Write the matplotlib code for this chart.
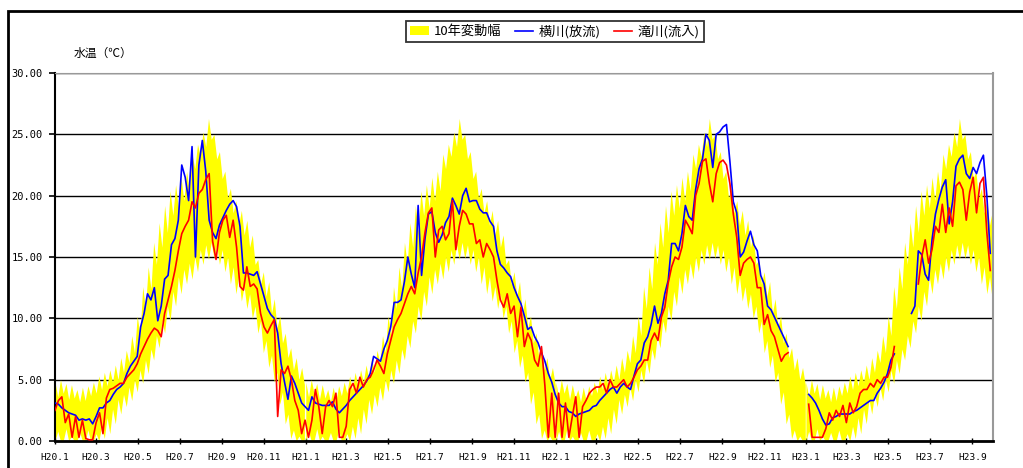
import numpy as np
import pandas as pd
import matplotlib
matplotlib.use('Agg')
import matplotlib.pyplot as plt
from matplotlib.patches import Patch, Rectangle
from matplotlib.lines import Line2D

plt.rcParams['font.family'] = ['Noto Sans CJK JP', 'DejaVu Sans']

nan = np.nan
start = pd.Timestamp('2008-01-01')
step = 5  # days between readings

# 横川(放流) water temperature, every 5 days from 2008-01-01
yokokawa = [
    3.1, 3.0, 2.7, 2.5, 2.3, 2.2, 2.1, 1.7, 1.8, 1.7,
    1.8, 1.4, 2.0, 2.7, 2.7, 3.1, 3.3, 3.8, 4.2, 4.4,
    4.7, 5.5, 6.1, 6.5, 6.9, 9.3, 10.4, 12.0, 11.5, 12.5,
    9.8, 11.0, 13.2, 13.5, 16.0, 16.5, 18.0, 22.5, 21.5, 19.6,
    24.0, 15.0, 22.5, 24.5, 22.0, 18.0, 17.0, 16.5, 17.6, 18.2,
    18.8, 19.3, 19.6, 19.1, 17.5, 13.7, 13.7, 13.6, 13.5, 13.8,
    12.8, 11.8, 10.8, 10.3, 10.0, 8.8, 6.3, 4.8, 3.4, 5.3,
    4.7, 3.9, 3.1, 2.8, 2.5, 3.6, 3.1, 3.0, 2.9, 2.9,
    2.9, 3.2, 2.6, 2.3, 2.6, 2.9, 3.3, 3.6, 3.9, 4.2,
    4.5, 4.9, 5.5, 6.9, 6.7, 6.5, 7.5, 8.2, 9.3, 11.3,
    11.3, 11.5, 13.0, 15.0, 13.6, 12.5, 19.2, 13.5, 16.5, 18.5,
    18.7, 17.0, 16.2, 16.8, 17.8, 18.3, 19.8, 19.2, 18.5, 20.0,
    20.6, 19.5, 19.6, 19.6, 18.9, 18.6, 18.6, 17.9, 17.5, 15.5,
    14.4, 14.1, 13.7, 13.4, 12.5, 11.8, 11.2, 10.2, 9.1, 9.3,
    8.5, 8.0, 7.2, 6.5, 5.5, 4.8, 3.8, 3.1, 2.8, 2.8,
    2.4, 2.3, 2.0, 2.2, 2.3, 2.4, 2.5, 2.8, 2.9, 3.3,
    3.6, 3.9, 4.2, 4.4, 3.9, 4.4, 4.7, 4.4, 4.2, 5.3,
    6.3, 6.6, 8.0, 8.5, 9.5, 11.0, 9.6, 10.4, 12.0, 13.1,
    16.1, 16.1, 15.5, 16.9, 19.2, 18.3, 18.0, 20.5, 22.2, 23.0,
    25.0, 24.5, 22.3, 25.0, 25.2, 25.6, 25.8, 22.8, 19.5, 18.6,
    15.0, 15.4, 16.3, 17.1, 16.0, 15.5, 13.5, 12.8, 11.0, 10.7,
    10.1, 9.5, 8.9, 8.3, 7.7, nan, nan, nan, nan, nan,
    3.8, 3.5, 3.1, 2.5, 1.8, 1.3, 1.4, 1.9, 2.0, 2.2,
    2.2, 2.2, 2.2, 2.4, 2.5, 2.7, 2.9, 3.1, 3.3, 3.3,
    3.9, 4.3, 4.8, 5.5, 6.6, 7.1, nan, nan, nan, nan,
    10.4, 11.0, 15.5, 15.2, 13.6, 13.1, 16.4, 18.5, 19.7, 20.7,
    21.3, 17.7, 19.5, 22.4, 23.0, 23.3, 21.8, 21.4, 22.3, 21.8,
    22.7, 23.3, 20.0, 15.3,
]

# 滝川(流入) water temperature, same dates
takigawa = [
    2.5, 3.3, 3.6, 1.5, 2.2, 0.3, 2.0, 0.3, 1.7, 0.2,
    0.1, 0.1, 1.5, 2.3, 0.6, 3.5, 4.2, 4.3, 4.5, 4.7,
    4.7, 5.2, 5.5, 5.8, 6.3, 7.1, 7.7, 8.3, 8.8, 9.2,
    9.0, 8.5, 10.4, 11.5, 12.6, 13.9, 15.5, 16.9, 17.5, 18.0,
    19.5, 19.0, 20.2, 20.5, 21.3, 21.8, 16.3, 14.8, 17.0, 18.0,
    18.4, 16.6, 18.0, 15.8, 12.6, 12.3, 14.2, 12.6, 12.8, 12.4,
    10.4, 9.3, 8.8, 9.4, 9.9, 2.0, 5.8, 5.5, 6.1, 5.0,
    3.3, 2.5, 0.6, 1.7, 0.3, 1.7, 4.2, 2.8, 0.6, 2.8,
    3.3, 2.8, 3.9, 0.3, 0.3, 1.2, 4.2, 4.7, 3.9, 5.2,
    4.4, 5.0, 5.2, 5.8, 6.6, 6.1, 5.5, 7.1, 8.2, 9.3,
    9.9, 10.4, 11.2, 12.0, 12.6, 12.0, 13.7, 15.0, 17.0, 18.6,
    19.0, 15.0, 17.2, 17.5, 16.4, 16.9, 19.6, 15.6, 17.5, 18.8,
    18.5, 17.7, 17.7, 16.1, 16.4, 15.0, 16.1, 15.6, 15.0, 13.1,
    11.5, 10.9, 12.0, 10.4, 11.0, 8.5, 10.9, 7.7, 8.8, 8.2,
    6.6, 6.1, 7.7, 4.5, 0.3, 3.9, 0.3, 3.9, 0.3, 3.1,
    0.3, 2.0, 3.6, 0.3, 2.8, 3.3, 3.9, 4.2, 4.4, 4.4,
    4.7, 3.9, 5.0, 4.4, 4.4, 4.7, 5.0, 4.4, 4.7, 5.2,
    5.8, 6.1, 6.6, 6.6, 8.2, 8.8, 8.2, 10.1, 10.9, 12.9,
    14.2, 15.0, 14.8, 15.8, 18.0, 17.5, 16.9, 20.0, 21.0, 22.8,
    23.0, 21.0, 19.5, 21.8, 22.7, 22.9, 22.5, 21.0, 18.5, 16.6,
    13.5, 14.5, 14.8, 15.0, 14.5, 12.5, 12.5, 9.5, 10.3, 9.0,
    8.5, 7.5, 6.5, 7.0, 7.2, nan, nan, nan, nan, nan,
    3.0, 0.3, 0.3, 0.3, 0.3, 1.0, 2.3, 1.7, 2.5, 2.0,
    2.9, 1.5, 3.1, 2.3, 2.8, 3.9, 4.2, 4.2, 4.7, 4.4,
    5.0, 4.7, 5.2, 5.2, 6.0, 7.7, nan, nan, nan, nan,
    nan, nan, 12.8, 15.0, 16.4, 14.5, 15.6, 17.5, 17.0, 19.3,
    17.0, 19.0, 17.5, 20.8, 21.1, 20.5, 18.0, 20.3, 21.5, 18.6,
    21.0, 21.5, 17.0, 13.9,
]

# 10-year range by day of year (every 4 days)
band_doy = np.arange(0, 365, 4)
band_low = [
    0.0, 0.8, 0.0, 0.0, 1.0, 0.0, 0.4, 0.0, 0.0, 0.7,
    0.0, 0.0, 0.9, 0.0, 0.0, 0.6, 0.0, 1.2, 0.2, 1.9,
    0.6, 2.6, 1.4, 3.4, 2.2, 3.8, 2.8, 4.4, 3.3, 5.0,
    4.0, 5.8, 4.7, 6.6, 5.5, 7.5, 6.6, 8.6, 7.6, 9.8,
    8.8, 11.0, 9.8, 12.2, 11.0, 13.4, 12.0, 14.0, 12.8, 14.5,
    13.2, 15.0, 13.8, 15.6, 14.4, 16.0, 14.8, 16.2, 14.9, 16.0,
    14.4, 15.6, 13.8, 15.0, 12.8, 14.2, 12.0, 13.4, 11.4, 12.6,
    10.8, 12.0, 10.0, 11.0, 8.8, 9.8, 7.2, 8.2, 6.0, 7.0,
    4.8, 5.6, 3.0, 4.0, 1.4, 2.2, 0.2, 0.9, 0.0, 0.4,
    0.0, 0.0,
]
band_high = [
    4.8, 3.6, 5.0, 3.9, 4.7, 3.4, 4.6, 3.5, 4.2, 3.2,
    4.4, 3.3, 4.5, 3.7, 4.8, 3.9, 5.3, 4.2, 5.6, 4.5,
    5.8, 4.8, 6.2, 5.0, 6.8, 5.6, 7.4, 6.4, 8.6, 7.2,
    10.2, 8.6, 12.6, 10.8, 14.2, 12.4, 16.2, 14.4, 17.8, 15.8,
    19.2, 17.0, 20.4, 18.4, 20.9, 19.0, 21.5, 19.6, 22.0, 20.4,
    23.4, 22.2, 24.2, 23.2, 25.2, 24.0, 26.3, 24.6, 25.0, 23.0,
    23.6, 21.4, 22.0, 19.8, 20.6, 18.6, 19.6, 17.6, 18.8, 16.8,
    18.0, 15.8, 16.8, 14.4, 14.8, 12.8, 13.8, 11.8, 13.0, 10.4,
    11.6, 9.2, 10.2, 8.0, 8.8, 6.8, 7.6, 5.8, 6.8, 5.0,
    6.0, 4.6,
]

years = [2008, 2009, 2010, 2011]
y_ticks = [0, 5, 10, 15, 20, 25, 30]

dates_b = start + pd.to_timedelta(np.arange(len(yokokawa)) * step, unit='D')
dates_r = start + pd.to_timedelta(np.arange(len(takigawa)) * step, unit='D')
tick_dates = pd.date_range('2008-01-01', '2011-09-01', freq='2MS')
tick_labels = ['H%d.%d' % (d.year - 1988, d.month) for d in tick_dates]

fig = plt.figure(figsize=(10.23, 4.68), dpi=100)
ax = fig.add_axes([55 / 1023, 1 - 441 / 468, 938 / 1023, 368 / 468])

for yr in years:
    bd = pd.Timestamp('%d-01-01' % yr) + pd.to_timedelta(band_doy, unit='D')
    ax.fill_between(bd, band_low, band_high, color='#FFFF00',
                    linewidth=0, zorder=2)

ax.plot(dates_b, yokokawa, color='#0000FF', lw=1.2, zorder=3)
ax.plot(dates_r, takigawa, color='#FF0000', lw=1.2, zorder=4)

ax.set_xlim(pd.Timestamp('2008-01-01'), pd.Timestamp('2011-10-01'))
ax.set_ylim(0, 30)
ax.set_yticks(y_ticks)
ax.set_yticklabels(['%.2f' % v for v in y_ticks], family='DejaVu Sans Mono',
                   fontsize=7.5)
ax.set_xticks(tick_dates)
ax.set_xticklabels(tick_labels, family='DejaVu Sans Mono', fontsize=6.8)
ax.tick_params(axis='y', direction='out', length=4, width=1.2, pad=5)
ax.tick_params(axis='x', direction='inout', length=5, width=1, pad=6)

ax.set_axisbelow(True)
ax.yaxis.grid(True, color='black', lw=1)
ax.spines['left'].set_linewidth(1.5)
ax.spines['bottom'].set_linewidth(2)
ax.spines['top'].set_color('#999999')
ax.spines['right'].set_color('#999999')
ax.spines['right'].set_linewidth(1.5)

fig.text(74 / 1023, 1 - 53 / 468, '水温（℃）', fontsize=8.5, va='center')

handles = [Patch(facecolor='#FFFF00', edgecolor='none'),
           Line2D([], [], color='#0000FF', lw=1.2),
           Line2D([], [], color='#FF0000', lw=1.2)]
leg = fig.legend(handles, ['10年変動幅', '横川(放流)', '滝川(流入)'],
                 loc='center', bbox_to_anchor=(555 / 1023, 1 - 31.5 / 468),
                 ncol=3, fontsize=9.5, frameon=True, fancybox=False,
                 edgecolor='black', handlelength=1.4, handleheight=0.6,
                 handletextpad=0.4, columnspacing=1.0, borderpad=0.3)
leg.get_frame().set_linewidth(1.3)

fig.add_artist(Rectangle((8 / 1023, -0.1), 1.2, 1.1 - 11 / 468,
                         transform=fig.transFigure, fill=False,
                         edgecolor='black', lw=2))

fig.savefig('out.png', dpi=100)
